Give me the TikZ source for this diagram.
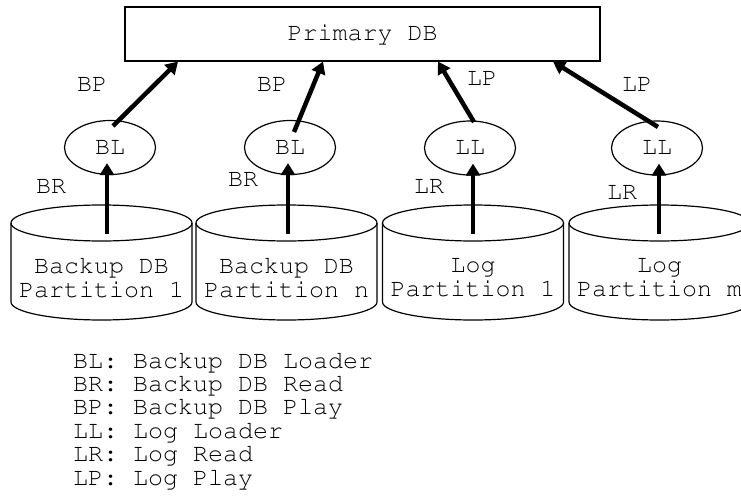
\documentclass[tikz,border=0pt]{standalone}
\usepackage[T1]{fontenc}
\renewcommand\rmdefault{pcr}
\setlength\lineskiplimit{-50pt}
\usetikzlibrary{arrows.meta,shapes.geometric}
\begin{document}
\begin{tikzpicture}[x=1pt,y=-1pt,
  font=\fontsize{25}{24}\selectfont,
  outline/.style={line width=1.2pt},
  flow/.style={line width=4.5pt,-{Triangle[length=12pt,width=14pt]}},
  feed/.style={flow,shorten >=-12pt},
  loader/.style={ellipse,draw,outline,minimum width=91pt,minimum height=54pt,inner sep=0pt},
  tag/.style={inner sep=0pt},
]
\useasboundingbox[fill=white] (0,0) rectangle (741,495);

% partition cylinders
\foreach \c in {101.5,286.5,473,659.5} {
  \draw[outline] (\c-90.5,223) -- (\c-90.5,302)
    arc[start angle=180,end angle=360,x radius=90.5pt,y radius=18pt] -- (\c+90.5,223);
  \draw[outline] (\c,223) ellipse [x radius=90.5pt,y radius=18pt];
}
\node[tag,align=center] (p1) at (101.5,278) {Backup DB\\Partition 1};
\node[tag,align=center] (p2) at (286.5,278) {Backup DB\\Partition n};
\node[tag,align=center] (p3) at (473,278) {Log\\Partition 1};
\node[tag,align=center] (p4) at (659.5,278) {Log\\Partition m};

% primary database
\node[draw,outline,minimum width=475pt,minimum height=54pt,inner sep=0pt] (pdb) at (362.5,34) {Primary DB};

% loaders
\node[loader] (bl1) at (110,147.5) {BL};
\node[loader] (bl2) at (290,147.5) {BL};
\node[loader] (ll1) at (470,148) {LL};
\node[loader] (ll2) at (657,148) {LL};

% read arrows
\coordinate (r1) at (107,234);
\coordinate (r2) at (288,234);
\coordinate (r3) at (473,234);
\coordinate (r4) at (659,234);
\draw[feed] (r1) -- (r1 |- bl1.south);
\draw[feed] (r2) -- (r2 |- bl2.south);
\draw[feed] (r3) -- (r3 |- ll1.south);
\draw[feed] (r4) -- (r4 |- ll2.south);

% play arrows
\coordinate (u1) at (113,126);
\coordinate (u2) at (294,132);
\coordinate (u3) at (474,122);
\coordinate (u4) at (658,127);
\draw[flow] (u1) -- (178,0 |- pdb.south);
\draw[flow] (u2) -- (323,0 |- pdb.south);
\draw[flow] (u3) -- (438,0 |- pdb.south);
\draw[flow] (u4) -- (553,0 |- pdb.south);

% arrow labels
\node[tag] (bp1) at (92,85) {BP};
\node[tag] (bp2) at (272,85) {BP};
\node[tag] (lp1) at (482,79) {LP};
\node[tag] (lp2) at (637,85) {LP};
\node[tag] (br1) at (51,187) {BR};
\node[tag] (br2) at (243,180) {BR};
\node[tag] (lr1) at (429,187) {LR};
\node[tag] (lr2) at (622,193) {LR};

% legend
\node[tag,align=left,anchor=north west,font=\fontsize{25}{23.4}\selectfont] (key) at (73,352)
  {BL: Backup DB Loader\\BR: Backup DB Read\\BP: Backup DB Play\\LL: Log Loader\\LR: Log Read\\LP: Log Play};
\end{tikzpicture}
\end{document}
